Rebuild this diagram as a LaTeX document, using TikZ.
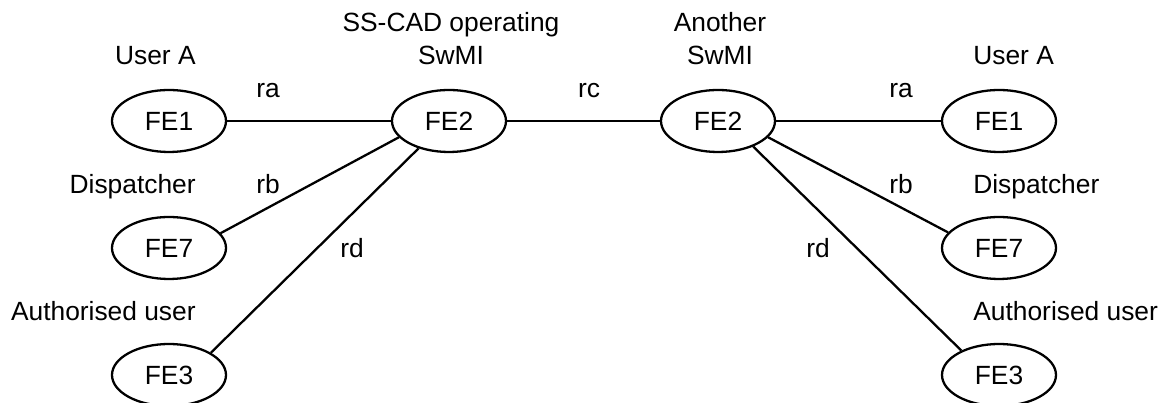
\documentclass[tikz,border=0pt]{standalone}
\usepackage{fontspec}
\setmainfont{Liberation Sans}
\usetikzlibrary{shapes.geometric,positioning}

\begin{document}
\begin{tikzpicture}[
    node distance=2.54cm,
    font=\fontsize{15}{18.8}\selectfont,
    fe/.style={ellipse, draw=black, line width=1.3pt, minimum width=2.28cm, minimum height=1.24cm, inner sep=0pt},
    lbl/.style={inner sep=0pt, anchor=base},
    link/.style={line width=1.3pt}
]
\useasboundingbox (0,0) rectangle (23.38,8.06);

% SS-CAD operating SwMI side
\node (fe1a) [fe] at (3.38,5.64) {FE1};
\node (fe7a) [fe, below of=fe1a] {FE7};
\node (fe3a) [fe, below of=fe7a] {FE3};
\node (fe2a) [fe, right of=fe1a, xshift=3.06cm] {FE2};

% Another SwMI side
\node (fe2b) [fe, right of=fe2a, xshift=2.84cm] {FE2};
\node (fe1b) [fe, right of=fe2b, xshift=3.08cm] {FE1};
\node (fe7b) [fe, below of=fe1b] {FE7};
\node (fe3b) [fe, below of=fe7b] {FE3};

% Titles
\node (usera) [lbl, anchor=base east] at (3.92,6.76) {User A};
\node (dispa) [lbl, anchor=base east] at (3.92,4.18) {Dispatcher};
\node (autha) [lbl, anchor=base east] at (3.92,1.64) {Authorised user};
\node (swmia) [lbl, align=center] at (9.02,6.76) {SS-CAD operating\\SwMI};
\node (swmib) [lbl, align=center] at (14.4,6.76) {Another\\SwMI};
\node (userb) [lbl, anchor=base west] at (19.46,6.76) {User A};
\node (dispb) [lbl, anchor=base west] at (19.46,4.18) {Dispatcher};
\node (authb) [lbl, anchor=base west] at (19.46,1.64) {Authorised user};

% Reference points
\node (raa) [lbl] at (5.36,6.10) {ra};
\node (rba) [lbl] at (5.36,4.18) {rb};
\node (rda) [lbl] at (7.04,2.90) {rd};
\node (rc)  [lbl] at (11.78,6.10) {rc};
\node (rab) [lbl] at (18.02,6.10) {ra};
\node (rbb) [lbl] at (18.02,4.18) {rb};
\node (rdb) [lbl] at (16.36,2.90) {rd};

% Links
\draw [link] (fe1a) -- (fe2a);
\draw [link] (fe7a.16) -- (fe2a.198);
\draw [link] (fe3a.28) -- (fe2a.222);
\draw [link] (fe2a) -- (fe2b);
\draw [link] (fe2b) -- (fe1b);
\draw [link] (fe2b.342) -- (fe7b.163);
\draw [link] (fe2b.324) -- (fe3b.147);

\end{tikzpicture}
\end{document}
